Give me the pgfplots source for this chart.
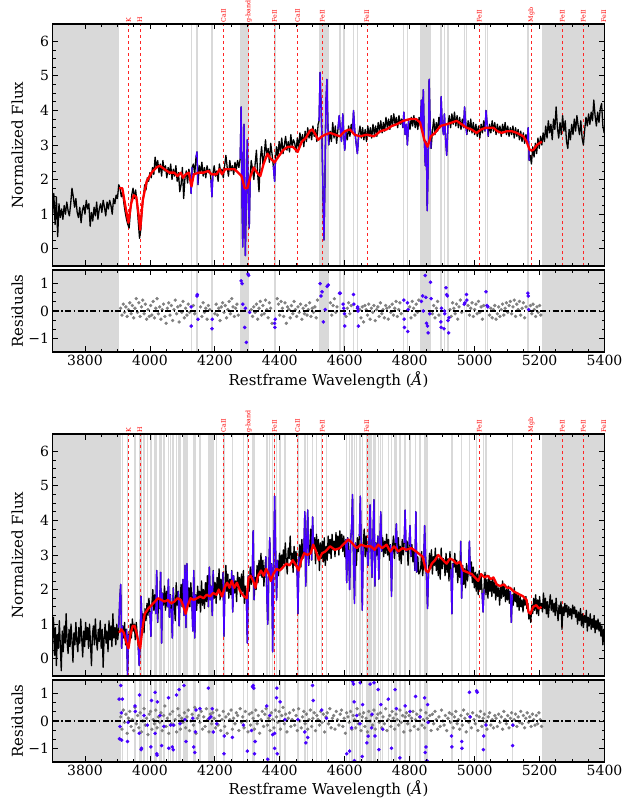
\documentclass[border=0pt]{standalone}
\usepackage{pgfplots}
\pgfplotsset{compat=1.18}
\usepackage{pgfplotstable}
\usepackage{fontspec}
\setmainfont{DejaVu Serif}
\definecolor{mblue}{RGB}{70,0,255}
\definecolor{band}{gray}{0.85}

\pgfplotstableread[row sep=\\]{x y\\
3700 1.00\\ 3704 1.60\\ 3708 0.70\\ 3712 1.50\\ 3716 0.35\\ 3720 1.30\\ 3724 0.90\\ 3728 1.15\\ 3732 0.85\\ 3736 1.25\\
3740 1.00\\ 3744 1.35\\ 3748 1.10\\ 3752 0.95\\ 3756 1.30\\ 3760 1.75\\ 3764 1.50\\ 3768 1.20\\ 3772 1.45\\ 3776 1.05\\
3780 0.90\\ 3784 1.20\\ 3788 0.75\\ 3792 1.10\\ 3796 1.25\\ 3800 1.00\\ 3804 1.40\\ 3808 1.15\\ 3812 1.30\\ 3816 0.65\\
3820 1.05\\ 3824 0.80\\ 3828 1.20\\ 3832 0.95\\ 3836 1.35\\ 3840 0.85\\ 3844 1.15\\ 3848 1.30\\ 3852 1.05\\ 3856 1.40\\
3860 1.20\\ 3864 0.95\\ 3868 1.35\\ 3872 1.15\\ 3876 1.40\\ 3880 1.25\\ 3884 1.00\\ 3888 1.45\\ 3892 1.30\\ 3896 1.55\\
3900 1.45\\ 3904 1.85\\ 3908 1.75\\ 3912 1.50\\ 3916 1.65\\ 3920 1.30\\ 3924 1.05\\ 3928 0.85\\ 3932 0.70\\ 3936 0.60\\
3940 1.10\\ 3944 1.55\\ 3948 1.75\\ 3952 1.45\\ 3956 1.70\\ 3960 1.35\\ 3964 0.80\\ 3968 0.30\\ 3972 0.55\\ 3976 1.15\\
3980 1.50\\ 3984 1.85\\ 3988 1.70\\ 3992 2.05\\ 3996 1.95\\ 4000 2.20\\ 4004 2.05\\ 4008 2.35\\ 4012 2.15\\ 4016 2.65\\
4020 2.35\\ 4024 2.55\\ 4028 2.20\\ 4032 2.45\\ 4036 2.10\\ 4040 2.55\\ 4044 2.25\\ 4048 2.40\\ 4052 2.05\\ 4056 2.35\\
4060 2.15\\ 4064 2.45\\ 4068 2.00\\ 4072 2.30\\ 4076 2.10\\ 4080 2.40\\ 4084 1.95\\ 4088 2.20\\ 4092 1.65\\ 4096 1.85\\
4100 2.35\\ 4104 1.45\\ 4108 2.05\\ 4112 2.25\\ 4116 1.90\\ 4120 2.30\\ 4124 2.10\\ 4127 1.60\\ 4130 2.35\\ 4134 2.45\\
4138 2.15\\ 4142 2.65\\ 4145 2.80\\ 4148 1.85\\ 4152 2.40\\ 4156 2.20\\ 4160 2.50\\ 4164 2.10\\ 4168 2.35\\ 4172 2.05\\
4176 2.40\\ 4180 2.20\\ 4184 2.30\\ 4188 2.00\\ 4191 1.50\\ 4194 2.15\\ 4198 2.40\\ 4202 2.10\\ 4206 2.25\\ 4210 1.95\\
4214 2.45\\ 4218 2.20\\ 4222 2.30\\ 4226 2.05\\ 4230 2.40\\ 4234 2.70\\ 4238 2.35\\ 4242 2.10\\ 4246 2.55\\ 4250 2.25\\
4254 2.40\\ 4258 2.15\\ 4262 2.50\\ 4266 2.30\\ 4270 2.55\\ 4274 2.35\\ 4278 2.60\\ 4281 4.10\\ 4284 1.20\\ 4286 0.05\\
4288 2.40\\ 4290 3.60\\ 4292 1.20\\ 4294 -0.20\\ 4297 1.60\\ 4300 3.15\\ 4303 1.40\\ 4306 0.60\\ 4309 2.10\\ 4312 2.55\\
4316 2.30\\ 4320 2.00\\ 4324 2.45\\ 4328 2.85\\ 4332 2.15\\ 4336 1.65\\ 4340 2.60\\ 4344 2.95\\ 4348 2.45\\ 4352 2.70\\
4356 3.15\\ 4360 2.65\\ 4364 2.90\\ 4368 2.50\\ 4372 3.05\\ 4376 2.75\\ 4380 2.40\\ 4384 1.95\\ 4387 2.60\\ 4390 2.95\\
4394 2.65\\ 4398 3.10\\ 4402 2.80\\ 4406 3.20\\ 4410 2.75\\ 4414 3.00\\ 4418 3.25\\ 4422 2.85\\ 4426 3.10\\ 4430 2.80\\
4434 3.30\\ 4438 2.95\\ 4442 3.15\\ 4446 3.05\\ 4450 2.80\\ 4454 3.20\\ 4458 2.90\\ 4462 3.35\\ 4466 3.05\\ 4470 3.30\\
4474 2.95\\ 4478 3.40\\ 4482 3.10\\ 4486 3.50\\ 4490 3.20\\ 4494 3.45\\ 4498 3.15\\ 4502 3.55\\ 4506 3.25\\ 4510 3.45\\
4514 3.10\\ 4518 3.60\\ 4521 3.70\\ 4524 5.10\\ 4527 4.20\\ 4530 3.10\\ 4533 1.60\\ 4536 0.25\\ 4539 1.90\\ 4542 4.20\\
4545 4.90\\ 4548 3.60\\ 4551 3.00\\ 4555 3.40\\ 4559 3.10\\ 4563 3.65\\ 4567 3.20\\ 4571 3.55\\ 4575 3.05\\ 4579 3.45\\
4583 3.85\\ 4586 3.50\\ 4590 3.10\\ 4594 3.90\\ 4597 3.30\\ 4600 2.85\\ 4604 3.40\\ 4608 3.15\\ 4612 3.55\\ 4616 3.25\\
4620 3.60\\ 4624 3.35\\ 4627 4.00\\ 4631 3.40\\ 4635 3.05\\ 4639 2.75\\ 4643 3.30\\ 4647 3.55\\ 4651 3.20\\ 4655 3.50\\
4659 3.15\\ 4663 3.45\\ 4667 3.10\\ 4671 3.55\\ 4675 3.25\\ 4679 3.50\\ 4683 3.20\\ 4687 3.60\\ 4691 3.30\\ 4695 3.55\\
4699 3.25\\ 4703 3.65\\ 4707 3.40\\ 4711 3.70\\ 4715 3.35\\ 4719 3.65\\ 4723 3.40\\ 4727 3.80\\ 4731 3.50\\ 4735 3.75\\
4739 3.45\\ 4743 3.85\\ 4747 3.55\\ 4751 3.90\\ 4755 3.60\\ 4759 3.80\\ 4763 3.50\\ 4767 3.85\\ 4771 3.60\\ 4775 3.75\\
4779 3.50\\ 4782 3.95\\ 4786 3.30\\ 4790 3.60\\ 4793 3.00\\ 4797 3.70\\ 4801 3.45\\ 4805 3.80\\ 4809 3.55\\ 4813 3.85\\
4817 3.50\\ 4821 3.75\\ 4825 3.45\\ 4829 3.80\\ 4833 3.55\\ 4836 4.30\\ 4839 3.40\\ 4842 4.60\\ 4845 3.20\\ 4848 2.40\\
4851 3.10\\ 4854 1.10\\ 4857 2.50\\ 4860 4.90\\ 4863 3.60\\ 4866 2.90\\ 4870 3.40\\ 4874 3.75\\ 4878 3.30\\ 4882 3.65\\
4886 3.40\\ 4890 3.80\\ 4894 3.50\\ 4897 4.40\\ 4900 3.60\\ 4904 3.30\\ 4907 3.90\\ 4911 3.10\\ 4914 2.70\\ 4918 3.60\\
4922 3.85\\ 4926 3.50\\ 4930 3.90\\ 4934 3.60\\ 4938 3.95\\ 4942 3.55\\ 4946 3.85\\ 4950 3.50\\ 4954 3.80\\ 4958 3.45\\
4962 3.75\\ 4966 3.50\\ 4969 4.10\\ 4973 3.55\\ 4976 3.30\\ 4980 3.70\\ 4984 3.40\\ 4988 3.75\\ 4992 3.35\\ 4996 3.65\\
5000 3.30\\ 5004 3.60\\ 5008 3.25\\ 5012 3.55\\ 5016 3.20\\ 5020 3.60\\ 5024 3.35\\ 5028 3.70\\ 5032 3.40\\ 5035 4.00\\
5039 3.55\\ 5042 3.25\\ 5046 3.60\\ 5050 3.35\\ 5054 3.70\\ 5058 3.40\\ 5062 3.65\\ 5066 3.30\\ 5070 3.60\\ 5074 3.35\\
5078 3.55\\ 5082 3.25\\ 5086 3.60\\ 5090 3.35\\ 5094 3.65\\ 5098 3.30\\ 5102 3.55\\ 5106 3.25\\ 5110 3.50\\ 5114 3.30\\
5118 3.55\\ 5122 3.20\\ 5126 3.50\\ 5130 3.25\\ 5134 3.45\\ 5138 3.15\\ 5142 3.40\\ 5146 3.10\\ 5150 3.35\\ 5154 3.05\\
5158 3.30\\ 5162 3.10\\ 5165 3.50\\ 5168 2.55\\ 5171 2.70\\ 5175 2.45\\ 5179 2.95\\ 5183 2.65\\ 5187 3.05\\ 5191 2.75\\
5195 3.20\\ 5199 2.90\\ 5203 3.25\\ 5207 3.00\\ 5211 3.35\\ 5215 3.10\\ 5219 3.55\\ 5223 3.20\\ 5227 3.70\\ 5231 3.35\\
5235 3.60\\ 5239 3.15\\ 5243 3.75\\ 5247 3.45\\ 5251 4.10\\ 5255 3.50\\ 5259 3.20\\ 5263 3.65\\ 5267 3.30\\ 5271 3.85\\
5275 3.40\\ 5279 3.70\\ 5283 3.10\\ 5287 2.90\\ 5291 3.45\\ 5295 3.15\\ 5299 3.60\\ 5303 3.30\\ 5307 3.75\\ 5311 3.40\\
5315 3.85\\ 5319 3.55\\ 5323 3.30\\ 5327 3.70\\ 5331 3.20\\ 5335 3.00\\ 5339 3.45\\ 5343 3.80\\ 5347 3.55\\ 5351 3.90\\
5355 3.60\\ 5359 3.95\\ 5363 3.70\\ 5367 4.30\\ 5371 3.85\\ 5375 3.55\\ 5379 3.95\\ 5383 3.65\\ 5387 4.05\\ 5391 4.20\\
5395 3.55\\ 5399 3.35\\ 5400 3.40\\
}\specA

\pgfplotstableread[row sep=\\]{x y\\
4124 2.10\\ 4127 1.60\\ 4130 2.35\\ 4131 nan\\
4142 2.65\\ 4145 2.80\\ 4148 1.85\\ 4149 nan\\
4188 2.00\\ 4191 1.50\\ 4194 2.15\\ 4195 nan\\
4278 2.60\\ 4281 4.10\\ 4284 1.20\\ 4286 0.05\\ 4288 2.40\\ 4290 3.60\\ 4292 1.20\\ 4294 -0.20\\ 4297 1.60\\ 4300 3.15\\ 4303 1.40\\ 4306 0.60\\ 4309 2.10\\ 4310 nan\\
4380 2.40\\ 4384 1.95\\ 4387 2.60\\ 4388 nan\\
4521 3.70\\ 4524 5.10\\ 4527 4.20\\ 4530 3.10\\ 4533 1.60\\ 4536 0.25\\ 4539 1.90\\ 4542 4.20\\ 4545 4.90\\ 4548 3.60\\ 4551 3.00\\ 4552 nan\\
4579 3.45\\ 4583 3.85\\ 4586 3.50\\ 4590 3.10\\ 4594 3.90\\ 4597 3.30\\ 4600 2.85\\ 4604 3.40\\ 4605 nan\\
4624 3.35\\ 4627 4.00\\ 4631 3.40\\ 4635 3.05\\ 4639 2.75\\ 4643 3.30\\ 4644 nan\\
4779 3.50\\ 4782 3.95\\ 4786 3.30\\ 4790 3.60\\ 4793 3.00\\ 4797 3.70\\ 4798 nan\\
4833 3.55\\ 4836 4.30\\ 4839 3.40\\ 4842 4.60\\ 4845 3.20\\ 4848 2.40\\ 4851 3.10\\ 4854 1.10\\ 4857 2.50\\ 4860 4.90\\ 4863 3.60\\ 4866 2.90\\ 4867 nan\\
4894 3.50\\ 4897 4.40\\ 4900 3.60\\ 4904 3.30\\ 4907 3.90\\ 4911 3.10\\ 4914 2.70\\ 4918 3.60\\ 4919 nan\\
4966 3.50\\ 4969 4.10\\ 4973 3.55\\ 4976 3.30\\ 4977 nan\\
5032 3.40\\ 5035 4.00\\ 5039 3.55\\ 5042 3.25\\ 5043 nan\\
5162 3.10\\ 5165 3.50\\ 5168 2.55\\
}\blueA

\pgfplotstableread[row sep=\\]{x y\\
3905 1.75\\ 3915 1.75\\ 3925 1.20\\ 3934 0.75\\ 3942 1.30\\ 3950 1.55\\ 3958 1.50\\ 3965 1.00\\ 3970 0.55\\ 3978 1.40\\
3990 1.95\\ 4005 2.20\\ 4020 2.35\\ 4030 2.40\\ 4045 2.30\\ 4060 2.20\\ 4075 2.20\\ 4085 2.10\\ 4095 2.20\\ 4102 2.05\\
4110 2.15\\ 4120 2.20\\ 4128 1.80\\ 4135 2.15\\ 4150 2.20\\ 4165 2.20\\ 4180 2.25\\ 4190 2.15\\ 4205 2.15\\ 4215 2.30\\
4222 2.15\\ 4232 2.30\\ 4245 2.30\\ 4260 2.30\\ 4272 2.20\\ 4282 2.10\\ 4292 1.75\\ 4300 1.75\\ 4310 2.10\\ 4320 2.35\\
4330 2.20\\ 4340 2.10\\ 4350 2.45\\ 4362 2.75\\ 4372 2.60\\ 4384 2.50\\ 4395 2.65\\ 4410 2.85\\ 4425 2.95\\ 4440 2.95\\
4455 2.80\\ 4468 3.10\\ 4480 3.20\\ 4492 3.40\\ 4500 3.45\\ 4510 3.30\\ 4518 3.15\\ 4530 3.25\\ 4540 3.30\\ 4555 3.35\\
4570 3.30\\ 4585 3.25\\ 4600 3.40\\ 4616 3.45\\ 4630 3.30\\ 4647 3.25\\ 4668 3.30\\ 4690 3.25\\ 4710 3.40\\ 4729 3.45\\
4745 3.55\\ 4760 3.60\\ 4780 3.70\\ 4801 3.75\\ 4820 3.75\\ 4832 3.65\\ 4845 3.15\\ 4855 2.95\\ 4865 3.25\\ 4878 3.35\\
4895 3.55\\ 4914 3.60\\ 4930 3.65\\ 4945 3.70\\ 4960 3.60\\ 4975 3.50\\ 4990 3.45\\ 5006 3.35\\ 5020 3.45\\ 5035 3.50\\
5058 3.50\\ 5070 3.40\\ 5083 3.35\\ 5100 3.40\\ 5114 3.40\\ 5130 3.35\\ 5150 3.25\\ 5160 3.10\\ 5170 2.85\\ 5180 2.85\\
5192 3.00\\ 5207 3.10\\
}\modelA

\pgfplotstableread[row sep=\\]{x y\\
3910 0.10\\ 3914 -0.15\\ 3918 0.25\\ 3922 -0.05\\ 3926 0.15\\ 3930 -0.20\\ 3934 0.05\\ 3938 0.30\\ 3942 -0.10\\ 3946 0.20\\
3950 -0.25\\ 3954 0.10\\ 3958 0.45\\ 3962 -0.05\\ 3966 0.30\\ 3970 -0.20\\ 3974 0.15\\ 3978 0.40\\ 3982 -0.10\\ 3986 0.25\\
3990 -0.30\\ 3994 0.05\\ 3998 -0.20\\ 4002 0.20\\ 4006 -0.15\\ 4010 0.35\\ 4014 -0.25\\ 4018 0.10\\ 4022 0.45\\ 4026 -0.10\\
4030 0.15\\ 4034 -0.30\\ 4038 0.05\\ 4042 0.25\\ 4046 -0.20\\ 4050 -0.45\\ 4054 0.10\\ 4058 0.30\\ 4062 -0.15\\ 4066 0.20\\
4070 -0.35\\ 4074 0.05\\ 4078 0.40\\ 4082 -0.10\\ 4086 0.15\\ 4090 -0.40\\ 4094 0.20\\ 4098 -0.05\\ 4102 0.35\\ 4106 -0.25\\
4110 0.10\\ 4114 -0.15\\ 4118 0.25\\ 4122 -0.05\\ 4134 0.20\\ 4138 -0.10\\ 4156 0.15\\ 4160 -0.20\\ 4164 0.30\\ 4168 -0.05\\
4172 0.10\\ 4176 -0.30\\ 4180 0.20\\ 4184 0.05\\ 4200 -0.10\\ 4204 0.25\\ 4208 -0.15\\ 4212 0.10\\ 4216 -0.35\\ 4220 0.15\\
4224 0.30\\ 4228 -0.05\\ 4232 0.20\\ 4236 -0.25\\ 4240 0.05\\ 4244 0.35\\ 4248 -0.10\\ 4252 0.45\\ 4256 0.15\\ 4260 -0.20\\
4264 0.10\\ 4268 0.25\\ 4272 -0.15\\ 4312 0.05\\ 4316 -0.20\\ 4320 0.15\\ 4324 -0.05\\ 4328 0.25\\ 4332 -0.30\\ 4336 0.10\\
4340 0.35\\ 4344 -0.15\\ 4348 0.20\\ 4352 -0.10\\ 4356 0.40\\ 4360 0.05\\ 4364 -0.25\\ 4368 0.30\\ 4372 0.10\\ 4376 -0.45\\
4392 0.45\\ 4396 0.25\\ 4400 -0.15\\ 4404 0.35\\ 4408 0.10\\ 4412 -0.20\\ 4416 0.30\\ 4420 -0.45\\ 4424 0.15\\ 4428 0.05\\
4432 -0.25\\ 4436 0.20\\ 4440 -0.10\\ 4444 0.35\\ 4448 0.05\\ 4452 -0.20\\ 4456 0.15\\ 4460 -0.05\\ 4464 0.25\\ 4468 -0.30\\
4472 0.10\\ 4476 -0.10\\ 4480 0.20\\ 4484 -0.15\\ 4488 0.05\\ 4492 0.30\\ 4496 -0.20\\ 4500 0.10\\ 4504 -0.05\\ 4508 0.15\\
4512 -0.25\\ 4516 0.40\\ 4556 0.30\\ 4560 -0.15\\ 4564 0.20\\ 4568 0.45\\ 4572 -0.05\\ 4576 0.15\\ 4604 -0.20\\ 4608 0.10\\
4612 0.30\\ 4616 -0.10\\ 4620 0.20\\ 4646 0.05\\ 4650 -0.25\\ 4654 0.15\\ 4658 -0.40\\ 4662 0.20\\ 4666 0.05\\ 4670 -0.15\\
4674 0.25\\ 4678 -0.30\\ 4682 0.10\\ 4686 -0.05\\ 4690 0.20\\ 4694 -0.35\\ 4698 0.05\\ 4702 0.15\\ 4706 -0.20\\ 4710 0.30\\
4714 -0.10\\ 4718 0.05\\ 4722 -0.25\\ 4726 0.20\\ 4730 0.10\\ 4734 -0.30\\ 4738 0.15\\ 4742 -0.05\\ 4746 0.25\\ 4750 -0.15\\
4754 0.10\\ 4758 0.35\\ 4762 -0.20\\ 4766 0.05\\ 4770 0.30\\ 4774 -0.10\\ 4800 0.15\\ 4804 -0.25\\ 4808 0.35\\ 4812 0.10\\
4816 -0.15\\ 4820 0.25\\ 4824 -0.05\\ 4828 0.40\\ 4870 -0.10\\ 4874 0.20\\ 4878 -0.25\\ 4882 0.10\\ 4886 0.35\\ 4890 -0.15\\
4924 0.05\\ 4928 -0.20\\ 4932 0.30\\ 4936 0.10\\ 4940 -0.10\\ 4944 0.25\\ 4948 -0.30\\ 4952 0.15\\ 4956 0.40\\ 4960 -0.05\\
4980 0.20\\ 4984 -0.15\\ 4988 0.10\\ 4992 0.30\\ 4996 -0.20\\ 5000 0.05\\ 5004 0.25\\ 5008 -0.10\\ 5012 0.35\\ 5016 -0.05\\
5020 0.15\\ 5024 -0.30\\ 5028 0.20\\ 5046 -0.15\\ 5050 0.10\\ 5054 -0.25\\ 5058 0.05\\ 5062 0.20\\ 5066 -0.30\\ 5070 -0.10\\
5074 0.15\\ 5078 -0.20\\ 5082 0.05\\ 5086 0.25\\ 5090 -0.15\\ 5094 0.10\\ 5098 0.30\\ 5102 -0.05\\ 5106 0.20\\ 5110 0.35\\
5114 -0.10\\ 5118 0.15\\ 5122 0.40\\ 5126 -0.20\\ 5130 0.25\\ 5134 0.05\\ 5138 0.35\\ 5142 -0.15\\ 5146 0.10\\ 5150 0.30\\
5154 -0.25\\ 5158 0.15\\ 5172 0.20\\ 5176 -0.10\\ 5180 0.25\\ 5184 0.05\\ 5188 -0.20\\ 5192 0.15\\ 5196 -0.05\\ 5200 0.20\\
5204 -0.15\\
}\resA

\pgfplotstableread[row sep=\\]{x y\\
4127 0.15\\ 4127 -0.55\\ 4145 0.55\\ 4146 0.60\\ 4148 -0.30\\ 4191 -0.65\\ 4192 -0.30\\ 4281 1.10\\ 4284 1.00\\ 4286 0.25\\
4292 -0.60\\ 4294 0.10\\ 4297 -1.15\\ 4302 1.35\\ 4304 1.30\\ 4307 -0.05\\ 4384 -0.45\\ 4385 -0.60\\ 4386 -0.30\\ 4524 1.00\\
4527 0.55\\ 4530 0.70\\ 4534 -0.40\\ 4540 0.05\\ 4546 0.90\\ 4549 0.95\\ 4584 0.65\\ 4586 0.65\\ 4595 0.25\\ 4597 0.10\\
4599 -0.10\\ 4600 -0.55\\ 4627 0.60\\ 4628 0.25\\ 4639 0.10\\ 4640 0.15\\ 4642 -0.55\\ 4641 0.00\\ 4782 0.40\\ 4783 -0.30\\
4784 -0.60\\ 4793 0.30\\ 4794 -0.75\\ 4795 0.05\\ 4836 0.35\\ 4840 0.55\\ 4842 0.00\\ 4848 1.30\\ 4850 0.50\\ 4852 -0.45\\
4855 -0.55\\ 4857 -0.80\\ 4862 -0.10\\ 4864 1.05\\ 4866 0.45\\ 4896 -0.40\\ 4897 -0.60\\ 4898 0.10\\ 4906 -0.65\\ 4907 0.00\\
4908 -0.10\\ 4912 0.85\\ 4914 0.60\\ 4916 0.55\\ 4918 -0.35\\ 4920 -0.80\\ 4921 -0.25\\ 4968 0.25\\ 4970 0.30\\ 4975 0.60\\
4976 0.40\\ 5035 0.70\\ 5038 0.20\\ 5041 0.15\\ 5164 0.65\\ 5165 0.55\\ 5166 0.05\\
}\resblueA

\pgfplotstableread[row sep=\\]{x y\\
3700 0.60\\ 3703 1.20\\ 3706 0.10\\ 3709 0.90\\ 3712 -0.20\\ 3715 0.70\\ 3718 0.30\\ 3721 1.10\\ 3724 0.40\\ 3727 -0.35\\
3730 0.80\\ 3733 0.20\\ 3736 0.95\\ 3739 0.45\\ 3742 1.30\\ 3745 0.50\\ 3748 0.15\\ 3751 0.85\\ 3754 0.35\\ 3757 1.00\\
3760 0.55\\ 3763 -0.10\\ 3766 0.75\\ 3769 0.40\\ 3772 1.05\\ 3775 0.50\\ 3778 0.20\\ 3781 0.90\\ 3784 0.45\\ 3787 1.15\\
3790 0.60\\ 3793 0.05\\ 3796 0.80\\ 3799 0.35\\ 3802 1.05\\ 3805 0.55\\ 3808 0.90\\ 3811 0.30\\ 3814 1.00\\ 3817 0.45\\
3820 -0.20\\ 3823 0.70\\ 3826 0.95\\ 3829 0.40\\ 3832 1.15\\ 3835 0.55\\ 3838 0.25\\ 3841 0.85\\ 3844 0.50\\ 3847 1.10\\
3850 0.30\\ 3853 0.85\\ 3856 -0.25\\ 3859 0.60\\ 3862 1.00\\ 3865 0.45\\ 3868 0.80\\ 3871 0.20\\ 3874 1.10\\ 3877 0.55\\
3880 0.95\\ 3883 0.35\\ 3886 1.30\\ 3889 0.60\\ 3892 0.90\\ 3895 0.40\\ 3898 1.00\\ 3901 0.55\\ 3904 0.90\\ 3907 1.70\\
3910 2.15\\ 3913 0.30\\ 3916 0.95\\ 3919 0.60\\ 3922 1.05\\ 3925 0.40\\ 3928 0.85\\ 3931 -0.50\\ 3934 0.70\\ 3937 0.45\\
3940 1.00\\ 3943 0.60\\ 3946 1.15\\ 3949 0.80\\ 3952 1.00\\ 3955 0.55\\ 3958 1.05\\ 3961 0.70\\ 3964 0.35\\ 3967 -0.20\\
3970 0.50\\ 3973 1.80\\ 3976 0.90\\ 3979 1.30\\ 3982 0.75\\ 3985 1.45\\ 3988 1.10\\ 3991 1.60\\ 3994 1.25\\ 3997 1.75\\
4000 1.35\\ 4003 0.65\\ 4006 1.55\\ 4009 2.00\\ 4012 1.40\\ 4015 1.85\\ 4018 1.30\\ 4021 2.55\\ 4024 1.05\\ 4027 1.70\\
4030 1.45\\ 4033 2.50\\ 4036 0.45\\ 4039 1.90\\ 4042 1.55\\ 4045 2.10\\ 4048 1.40\\ 4051 1.95\\ 4054 1.50\\ 4057 2.30\\
4060 1.20\\ 4063 1.85\\ 4066 1.45\\ 4069 0.60\\ 4072 2.05\\ 4075 1.60\\ 4078 1.10\\ 4081 2.20\\ 4084 1.55\\ 4087 1.95\\
4090 0.95\\ 4093 1.75\\ 4096 2.15\\ 4099 1.50\\ 4102 2.30\\ 4105 1.25\\ 4108 2.70\\ 4111 0.90\\ 4114 2.75\\ 4117 1.60\\
4120 2.05\\ 4123 1.50\\ 4126 2.20\\ 4129 1.70\\ 4132 0.80\\ 4135 2.55\\ 4138 0.60\\ 4141 1.85\\ 4144 1.40\\ 4147 2.10\\
4150 1.60\\ 4153 1.95\\ 4156 1.35\\ 4159 2.25\\ 4162 1.55\\ 4165 2.00\\ 4168 1.45\\ 4171 2.20\\ 4174 1.65\\ 4177 2.40\\
4180 1.50\\ 4183 2.65\\ 4186 1.70\\ 4189 2.10\\ 4192 1.25\\ 4195 2.55\\ 4198 1.75\\ 4201 2.20\\ 4204 1.60\\ 4207 2.35\\
4210 1.90\\ 4213 2.60\\ 4216 1.70\\ 4219 2.30\\ 4222 1.85\\ 4225 2.50\\ 4228 0.65\\ 4231 2.05\\ 4234 2.70\\ 4237 1.95\\
4240 2.45\\ 4243 1.75\\ 4246 2.30\\ 4249 1.85\\ 4252 2.55\\ 4255 1.35\\ 4258 2.40\\ 4261 1.90\\ 4264 2.25\\ 4267 1.65\\
4270 2.50\\ 4273 2.05\\ 4276 2.35\\ 4279 1.80\\ 4282 2.45\\ 4285 1.95\\ 4288 2.55\\ 4291 1.60\\ 4294 2.10\\ 4297 1.80\\
4300 0.45\\ 4303 2.40\\ 4306 1.95\\ 4309 2.65\\ 4312 2.15\\ 4315 2.40\\ 4318 3.70\\ 4321 1.70\\ 4324 2.35\\ 4327 2.00\\
4330 2.70\\ 4333 2.20\\ 4336 2.85\\ 4339 2.40\\ 4342 3.05\\ 4345 2.35\\ 4348 2.85\\ 4351 2.10\\ 4354 2.60\\ 4357 2.95\\
4360 1.90\\ 4363 1.00\\ 4366 2.55\\ 4369 3.50\\ 4372 2.30\\ 4375 2.75\\ 4378 0.20\\ 4381 2.60\\ 4384 4.70\\ 4387 3.15\\
4390 1.70\\ 4393 2.85\\ 4396 2.40\\ 4399 3.05\\ 4402 2.55\\ 4405 3.00\\ 4408 2.60\\ 4411 3.15\\ 4414 2.75\\ 4417 3.35\\
4420 2.80\\ 4423 2.45\\ 4426 3.20\\ 4429 2.90\\ 4432 3.55\\ 4435 2.85\\ 4438 3.05\\ 4441 2.50\\ 4444 3.25\\ 4447 2.70\\
4450 3.10\\ 4453 2.60\\ 4456 1.30\\ 4459 2.95\\ 4462 3.30\\ 4465 2.65\\ 4468 3.45\\ 4471 2.90\\ 4474 3.10\\ 4477 4.25\\
4480 2.10\\ 4483 3.40\\ 4486 4.30\\ 4489 2.70\\ 4492 3.15\\ 4495 3.75\\ 4498 2.85\\ 4501 4.10\\ 4504 3.20\\ 4507 3.50\\
4510 2.75\\ 4513 3.60\\ 4516 3.10\\ 4519 3.45\\ 4522 2.55\\ 4525 3.35\\ 4528 2.90\\ 4531 3.40\\ 4534 2.80\\ 4537 3.50\\
4540 2.70\\ 4543 3.25\\ 4546 2.85\\ 4549 3.55\\ 4552 3.05\\ 4555 3.45\\ 4558 2.90\\ 4561 3.60\\ 4564 3.15\\ 4567 3.40\\
4570 2.95\\ 4573 3.65\\ 4576 3.20\\ 4579 3.55\\ 4582 3.00\\ 4585 3.70\\ 4588 3.25\\ 4591 3.60\\ 4594 3.10\\ 4597 3.55\\
4600 2.95\\ 4603 3.45\\ 4606 2.20\\ 4609 3.50\\ 4612 3.15\\ 4615 2.00\\ 4618 3.40\\ 4621 3.80\\ 4624 4.75\\ 4627 2.90\\
4630 1.60\\ 4633 3.35\\ 4636 2.70\\ 4639 3.50\\ 4642 3.10\\ 4645 3.55\\ 4648 4.70\\ 4651 3.20\\ 4654 1.40\\ 4657 3.30\\
4660 3.75\\ 4663 2.95\\ 4666 3.55\\ 4669 3.10\\ 4672 2.70\\ 4675 3.45\\ 4678 4.45\\ 4681 3.20\\ 4684 2.35\\ 4687 3.60\\
4690 4.60\\ 4693 2.10\\ 4696 3.35\\ 4699 3.00\\ 4702 3.55\\ 4705 2.30\\ 4708 3.40\\ 4711 4.25\\ 4714 3.10\\ 4717 3.50\\
4720 2.95\\ 4723 3.40\\ 4726 3.05\\ 4729 3.60\\ 4732 3.00\\ 4735 3.45\\ 4738 2.85\\ 4741 3.30\\ 4744 1.80\\ 4747 3.20\\
4750 3.55\\ 4753 2.90\\ 4756 3.35\\ 4759 3.90\\ 4762 3.05\\ 4765 3.50\\ 4768 2.85\\ 4771 3.25\\ 4774 2.75\\ 4777 3.45\\
4780 3.00\\ 4783 3.35\\ 4786 4.30\\ 4789 3.10\\ 4792 3.40\\ 4795 2.70\\ 4798 3.30\\ 4801 3.85\\ 4804 2.95\\ 4807 3.30\\
4810 2.80\\ 4813 3.15\\ 4816 2.55\\ 4819 4.25\\ 4822 2.50\\ 4825 2.95\\ 4828 2.45\\ 4831 2.50\\ 4834 2.60\\ 4837 3.10\\
4840 2.40\\ 4843 2.75\\ 4846 3.85\\ 4849 2.95\\ 4852 2.35\\ 4855 1.45\\ 4858 2.50\\ 4861 3.05\\ 4864 2.60\\ 4867 3.15\\
4870 2.45\\ 4873 2.95\\ 4876 2.70\\ 4879 3.20\\ 4882 2.55\\ 4885 3.00\\ 4888 2.40\\ 4891 2.90\\ 4894 2.30\\ 4897 3.20\\
4900 2.60\\ 4903 2.90\\ 4906 2.85\\ 4909 2.40\\ 4912 3.05\\ 4915 2.50\\ 4918 2.90\\ 4921 2.25\\ 4924 3.10\\ 4927 2.60\\
4930 1.30\\ 4933 2.75\\ 4936 2.65\\ 4939 3.05\\ 4942 2.50\\ 4945 2.85\\ 4948 2.20\\ 4951 2.75\\ 4954 2.35\\ 4957 3.40\\
4960 1.75\\ 4963 2.70\\ 4966 2.15\\ 4969 2.60\\ 4972 2.05\\ 4975 2.75\\ 4978 2.25\\ 4981 2.55\\ 4984 3.40\\ 4987 2.40\\
4990 2.80\\ 4993 2.20\\ 4996 2.65\\ 4999 2.05\\ 5002 2.50\\ 5005 1.95\\ 5008 2.45\\ 5011 1.85\\ 5014 2.55\\ 5017 2.00\\
5020 2.40\\ 5023 1.90\\ 5026 1.35\\ 5029 2.00\\ 5032 2.50\\ 5035 1.85\\ 5038 2.30\\ 5041 1.75\\ 5044 2.40\\ 5047 1.95\\
5050 2.25\\ 5053 1.80\\ 5056 2.35\\ 5059 1.90\\ 5062 2.20\\ 5065 1.70\\ 5068 2.15\\ 5071 1.80\\ 5074 2.05\\ 5077 1.55\\
5080 2.10\\ 5083 1.75\\ 5086 2.25\\ 5089 1.80\\ 5092 2.15\\ 5095 1.65\\ 5098 2.00\\ 5101 1.70\\ 5104 2.10\\ 5107 1.60\\
5110 1.95\\ 5113 1.05\\ 5116 1.85\\ 5119 1.55\\ 5122 2.05\\ 5125 1.65\\ 5128 1.90\\ 5131 1.50\\ 5134 1.85\\ 5137 1.40\\
5140 1.80\\ 5143 1.50\\ 5146 1.70\\ 5149 1.35\\ 5152 1.75\\ 5155 1.55\\ 5158 1.80\\ 5161 1.45\\ 5164 1.60\\ 5167 1.15\\
5170 1.30\\ 5173 1.05\\ 5176 1.55\\ 5179 1.30\\ 5182 1.75\\ 5185 1.40\\ 5188 1.85\\ 5191 1.30\\ 5194 1.70\\ 5197 1.25\\
5200 1.80\\ 5203 1.45\\ 5206 1.60\\ 5209 1.35\\ 5212 1.90\\ 5215 1.45\\ 5218 1.75\\ 5221 1.30\\ 5224 1.65\\ 5227 1.20\\
5230 1.55\\ 5233 1.85\\ 5236 1.40\\ 5239 1.70\\ 5242 1.35\\ 5245 1.60\\ 5248 1.25\\ 5251 1.75\\ 5254 1.40\\ 5257 1.10\\
5260 1.55\\ 5263 1.30\\ 5266 1.65\\ 5269 0.85\\ 5272 1.50\\ 5275 1.25\\ 5278 1.60\\ 5281 1.35\\ 5284 1.55\\ 5287 1.20\\
5290 1.50\\ 5293 1.25\\ 5296 1.45\\ 5299 1.15\\ 5302 1.55\\ 5305 1.30\\ 5308 1.50\\ 5311 1.20\\ 5314 1.40\\ 5317 1.00\\
5320 1.35\\ 5323 1.10\\ 5326 1.45\\ 5329 0.95\\ 5332 1.30\\ 5335 0.90\\ 5338 1.25\\ 5341 1.05\\ 5344 1.40\\ 5347 0.80\\
5350 1.20\\ 5353 0.95\\ 5356 1.30\\ 5359 0.85\\ 5362 1.15\\ 5365 0.90\\ 5368 1.25\\ 5371 0.75\\ 5374 1.10\\ 5377 0.85\\
5380 1.15\\ 5383 0.80\\ 5386 1.05\\ 5389 0.65\\ 5392 0.95\\ 5395 0.40\\ 5398 0.85\\ 5400 0.75\\
}\specB

\pgfplotstableread[row sep=\\]{x y\\
3904 0.90\\ 3907 1.70\\ 3910 2.15\\ 3913 0.30\\ 3916 0.95\\ 3917 nan\\
3928 0.85\\ 3931 -0.50\\ 3934 0.70\\ 3935 nan\\
3964 0.35\\ 3967 -0.20\\ 3970 0.50\\ 3973 1.80\\ 3976 0.90\\ 3977 nan\\
4000 1.35\\ 4003 0.65\\ 4006 1.55\\ 4007 nan\\
4018 1.30\\ 4021 2.55\\ 4024 1.05\\ 4025 nan\\
4030 1.45\\ 4033 2.50\\ 4036 0.45\\ 4039 1.90\\ 4040 nan\\
4054 1.50\\ 4057 2.30\\ 4060 1.20\\ 4063 1.85\\ 4064 nan\\
4066 1.45\\ 4069 0.60\\ 4072 2.05\\ 4073 nan\\
4087 1.95\\ 4090 0.95\\ 4093 1.75\\ 4094 nan\\
4102 2.30\\ 4105 1.25\\ 4108 2.70\\ 4111 0.90\\ 4114 2.75\\ 4117 1.60\\ 4118 nan\\
4129 1.70\\ 4132 0.80\\ 4135 2.55\\ 4138 0.60\\ 4141 1.85\\ 4142 nan\\
4180 1.50\\ 4183 2.65\\ 4186 1.70\\ 4187 nan\\
4189 2.10\\ 4192 1.25\\ 4195 2.55\\ 4196 nan\\
4225 2.50\\ 4228 0.65\\ 4231 2.05\\ 4232 nan\\
4252 2.55\\ 4255 1.35\\ 4258 2.40\\ 4259 nan\\
4297 1.80\\ 4300 0.45\\ 4303 2.40\\ 4304 nan\\
4315 2.40\\ 4318 3.70\\ 4321 1.70\\ 4322 nan\\
4357 2.95\\ 4360 1.90\\ 4363 1.00\\ 4366 2.55\\ 4369 3.50\\ 4372 2.30\\ 4373 nan\\
4375 2.75\\ 4378 0.20\\ 4381 2.60\\ 4384 4.70\\ 4387 3.15\\ 4390 1.70\\ 4393 2.85\\ 4394 nan\\
4453 2.60\\ 4456 1.30\\ 4459 2.95\\ 4460 nan\\
4474 3.10\\ 4477 4.25\\ 4480 2.10\\ 4483 3.40\\ 4486 4.30\\ 4489 2.70\\ 4490 nan\\
4498 2.85\\ 4501 4.10\\ 4504 3.20\\ 4505 nan\\
4603 3.45\\ 4606 2.20\\ 4609 3.50\\ 4610 nan\\
4612 3.15\\ 4615 2.00\\ 4618 3.40\\ 4621 3.80\\ 4624 4.75\\ 4627 2.90\\ 4630 1.60\\ 4633 3.35\\ 4634 nan\\
4645 3.55\\ 4648 4.70\\ 4651 3.20\\ 4654 1.40\\ 4657 3.30\\ 4658 nan\\
4669 3.10\\ 4672 2.70\\ 4675 3.45\\ 4678 4.45\\ 4681 3.20\\ 4684 2.35\\ 4687 3.60\\ 4690 4.60\\ 4693 2.10\\ 4696 3.35\\ 4697 nan\\
4702 3.55\\ 4705 2.30\\ 4708 3.40\\ 4711 4.25\\ 4714 3.10\\ 4715 nan\\
4741 3.30\\ 4744 1.80\\ 4747 3.20\\ 4748 nan\\
4756 3.35\\ 4759 3.90\\ 4762 3.05\\ 4763 nan\\
4783 3.35\\ 4786 4.30\\ 4789 3.10\\ 4790 nan\\
4798 3.30\\ 4801 3.85\\ 4804 2.95\\ 4805 nan\\
4816 2.55\\ 4819 4.25\\ 4822 2.50\\ 4823 nan\\
4843 2.75\\ 4846 3.85\\ 4849 2.95\\ 4852 2.35\\ 4855 1.45\\ 4858 2.50\\ 4859 nan\\
4927 2.60\\ 4930 1.30\\ 4933 2.75\\ 4934 nan\\
4957 3.40\\ 4960 1.75\\ 4963 2.70\\ 4964 nan\\
4981 2.55\\ 4984 3.40\\ 4987 2.40\\ 4988 nan\\
5023 1.90\\ 5026 1.35\\ 5029 2.00\\ 5030 nan\\
5110 1.95\\ 5113 1.05\\ 5116 1.85\\
}\blueB

\pgfplotstableread[row sep=\\]{x y\\
3905 0.75\\ 3912 0.85\\ 3920 0.75\\ 3928 0.45\\ 3934 0.30\\ 3940 0.70\\ 3947 0.95\\ 3953 0.95\\ 3960 0.70\\ 3966 0.40\\
3970 0.30\\ 3976 0.80\\ 3984 1.30\\ 3995 1.45\\ 4005 1.55\\ 4015 1.65\\ 4025 1.75\\ 4035 1.70\\ 4045 1.65\\ 4055 1.70\\
4065 1.60\\ 4075 1.65\\ 4085 1.75\\ 4095 1.70\\ 4102 1.55\\ 4110 1.30\\ 4117 1.55\\ 4125 1.75\\ 4135 1.70\\ 4145 1.75\\
4155 1.80\\ 4165 1.75\\ 4175 1.85\\ 4185 1.80\\ 4195 1.90\\ 4205 1.85\\ 4212 2.00\\ 4222 1.80\\ 4230 2.05\\ 4238 2.20\\
4245 2.05\\ 4252 2.25\\ 4260 2.05\\ 4268 2.20\\ 4278 1.95\\ 4290 1.80\\ 4298 1.75\\ 4304 2.35\\ 4310 2.40\\ 4318 2.25\\
4325 2.05\\ 4333 2.40\\ 4342 2.55\\ 4350 2.40\\ 4358 2.60\\ 4366 2.45\\ 4372 2.25\\ 4380 2.45\\ 4390 2.60\\ 4400 2.55\\
4410 2.65\\ 4420 2.75\\ 4430 2.70\\ 4440 2.85\\ 4450 2.70\\ 4458 2.55\\ 4466 2.85\\ 4475 3.05\\ 4485 3.00\\ 4495 3.05\\
4503 3.30\\ 4512 3.10\\ 4520 2.85\\ 4530 3.05\\ 4540 3.10\\ 4555 3.25\\ 4570 3.15\\ 4585 3.20\\ 4600 3.35\\ 4611 3.45\\
4622 3.35\\ 4637 3.20\\ 4650 3.30\\ 4665 3.25\\ 4680 3.25\\ 4692 3.15\\ 4703 3.30\\ 4715 3.20\\ 4729 3.30\\ 4740 3.10\\
4752 3.25\\ 4765 3.10\\ 4778 3.20\\ 4790 3.15\\ 4805 3.20\\ 4820 3.10\\ 4840 2.95\\ 4850 2.55\\ 4857 2.50\\ 4868 2.75\\
4878 2.85\\ 4888 3.00\\ 4898 2.90\\ 4908 2.80\\ 4914 2.75\\ 4924 2.90\\ 4934 2.85\\ 4944 2.75\\ 4955 2.80\\ 4965 2.55\\
4978 2.50\\ 4991 2.45\\ 5001 2.35\\ 5011 2.25\\ 5020 2.45\\ 5030 2.35\\ 5040 2.40\\ 5050 2.30\\ 5058 2.35\\ 5068 2.15\\
5078 2.10\\ 5090 2.15\\ 5100 2.05\\ 5109 2.05\\ 5120 1.95\\ 5130 1.90\\ 5140 1.85\\ 5150 1.80\\ 5160 1.70\\ 5166 1.35\\
5172 1.30\\ 5180 1.50\\ 5190 1.55\\ 5198 1.45\\ 5206 1.50\\
}\modelB

\pgfplotstableread[row sep=\\]{x y\\
3910 0.15\\ 3914 -0.30\\ 3918 0.40\\ 3922 -0.05\\ 3926 0.25\\ 3930 -0.45\\ 3934 0.10\\ 3938 0.35\\ 3942 -0.20\\ 3946 0.05\\
3950 -0.35\\ 3954 0.50\\ 3958 -0.10\\ 3962 0.20\\ 3966 -0.25\\ 3970 0.30\\ 3974 -0.40\\ 3978 0.00\\ 3982 0.45\\ 3986 -0.15\\
3990 0.10\\ 3994 -0.50\\ 3998 0.25\\ 4002 0.35\\ 4006 -0.30\\ 4010 0.05\\ 4014 -0.10\\ 4018 0.40\\ 4022 -0.25\\ 4026 0.15\\
4030 -0.05\\ 4034 0.30\\ 4038 -0.35\\ 4042 0.20\\ 4046 0.55\\ 4050 -0.20\\ 4054 0.10\\ 4058 -0.45\\ 4062 0.25\\ 4066 -0.10\\
4070 0.35\\ 4074 -0.15\\ 4078 0.05\\ 4082 -0.40\\ 4086 0.45\\ 4090 0.20\\ 4094 -0.30\\ 4098 0.10\\ 4102 -0.05\\ 4106 0.30\\
4110 -0.25\\ 4114 0.15\\ 4118 0.40\\ 4122 -0.35\\ 4126 0.00\\ 4130 0.25\\ 4134 -0.15\\ 4138 0.50\\ 4142 -0.45\\ 4146 0.10\\
4150 0.20\\ 4154 -0.05\\ 4158 0.35\\ 4162 -0.30\\ 4166 0.15\\ 4170 -0.20\\ 4174 0.45\\ 4178 0.05\\ 4182 -0.40\\ 4186 0.25\\
4190 -0.10\\ 4194 0.30\\ 4198 0.10\\ 4202 -0.25\\ 4206 0.40\\ 4210 -0.15\\ 4214 0.20\\ 4218 -0.35\\ 4222 0.05\\ 4226 0.35\\
4230 -0.20\\ 4234 0.15\\ 4238 -0.45\\ 4242 0.25\\ 4246 0.05\\ 4250 0.40\\ 4254 -0.30\\ 4258 0.10\\ 4262 -0.10\\ 4266 0.30\\
4270 0.20\\ 4274 -0.35\\ 4278 0.45\\ 4282 -0.05\\ 4286 0.15\\ 4290 -0.25\\ 4294 0.35\\ 4298 0.00\\ 4302 -0.40\\ 4306 0.25\\
4310 -0.15\\ 4314 0.30\\ 4318 0.10\\ 4322 -0.30\\ 4326 0.40\\ 4330 -0.10\\ 4334 0.20\\ 4338 -0.45\\ 4342 0.05\\ 4346 0.35\\
4350 -0.20\\ 4354 0.25\\ 4358 0.45\\ 4362 -0.15\\ 4366 0.10\\ 4370 -0.35\\ 4374 0.30\\ 4378 0.05\\ 4382 -0.25\\ 4386 0.40\\
4390 0.15\\ 4394 -0.05\\ 4398 0.35\\ 4402 -0.30\\ 4406 0.20\\ 4410 0.50\\ 4414 -0.10\\ 4418 0.25\\ 4422 -0.40\\ 4426 0.10\\
4430 0.30\\ 4434 -0.20\\ 4438 0.05\\ 4442 0.40\\ 4446 -0.15\\ 4450 0.20\\ 4454 -0.35\\ 4458 0.45\\ 4462 0.00\\ 4466 -0.25\\
4470 0.15\\ 4474 0.35\\ 4478 -0.10\\ 4482 0.25\\ 4486 -0.30\\ 4490 0.05\\ 4494 0.40\\ 4498 -0.20\\ 4502 0.10\\ 4506 0.30\\
4510 -0.35\\ 4514 0.20\\ 4518 0.05\\ 4522 -0.15\\ 4526 0.35\\ 4530 -0.05\\ 4534 0.25\\ 4538 -0.40\\ 4542 0.15\\ 4546 0.30\\
4550 -0.10\\ 4554 0.45\\ 4558 -0.25\\ 4562 0.10\\ 4566 0.20\\ 4570 -0.30\\ 4574 0.35\\ 4578 0.05\\ 4582 -0.15\\ 4586 0.25\\
4590 0.40\\ 4594 -0.20\\ 4598 0.10\\ 4602 -0.45\\ 4606 0.30\\ 4610 0.15\\ 4614 -0.05\\ 4618 0.35\\ 4622 -0.30\\ 4626 0.20\\
4630 0.05\\ 4634 -0.25\\ 4638 0.45\\ 4642 -0.10\\ 4646 0.25\\ 4650 -0.35\\ 4654 0.15\\ 4658 0.30\\ 4662 -0.20\\ 4666 0.10\\
4670 -0.40\\ 4674 0.35\\ 4678 0.00\\ 4682 0.20\\ 4686 -0.15\\ 4690 0.40\\ 4694 -0.30\\ 4698 0.10\\ 4702 0.25\\ 4706 -0.05\\
4710 0.30\\ 4714 -0.25\\ 4718 0.15\\ 4722 -0.10\\ 4726 0.45\\ 4730 -0.35\\ 4734 0.05\\ 4738 0.20\\ 4742 -0.20\\ 4746 0.35\\
4750 0.10\\ 4754 -0.30\\ 4758 0.25\\ 4762 0.05\\ 4766 -0.15\\ 4770 0.40\\ 4774 -0.05\\ 4778 0.20\\ 4782 -0.40\\ 4786 0.15\\
4790 0.30\\ 4794 -0.10\\ 4798 0.20\\ 4802 -0.35\\ 4806 0.10\\ 4810 0.35\\ 4814 -0.20\\ 4818 0.05\\ 4822 0.25\\ 4826 -0.30\\
4830 0.15\\ 4834 0.40\\ 4838 -0.15\\ 4842 0.05\\ 4846 -0.25\\ 4850 0.30\\ 4854 0.10\\ 4858 -0.05\\ 4862 0.20\\ 4866 -0.35\\
4870 0.25\\ 4874 -0.10\\ 4878 0.35\\ 4882 0.05\\ 4886 -0.30\\ 4890 0.15\\ 4894 -0.20\\ 4898 0.40\\ 4902 0.00\\ 4906 -0.15\\
4910 0.20\\ 4914 -0.35\\ 4918 0.10\\ 4922 0.30\\ 4926 -0.05\\ 4930 0.25\\ 4934 -0.25\\ 4938 0.15\\ 4942 0.35\\ 4946 -0.10\\
4950 0.05\\ 4954 -0.30\\ 4958 0.20\\ 4962 -0.15\\ 4966 0.40\\ 4970 0.10\\ 4974 -0.40\\ 4978 0.25\\ 4982 -0.05\\ 4986 0.15\\
4990 -0.25\\ 4994 0.30\\ 4998 0.05\\ 5002 -0.10\\ 5006 0.20\\ 5010 -0.35\\ 5014 0.15\\ 5018 0.35\\ 5022 -0.20\\ 5026 0.10\\
5030 0.25\\ 5034 -0.05\\ 5038 -0.30\\ 5042 0.15\\ 5046 0.30\\ 5050 -0.15\\ 5054 0.05\\ 5058 -0.25\\ 5062 0.20\\ 5066 0.10\\
5070 -0.20\\ 5074 0.25\\ 5078 -0.05\\ 5082 0.15\\ 5086 -0.30\\ 5090 0.35\\ 5094 0.05\\ 5098 -0.10\\ 5102 0.20\\ 5106 -0.25\\
5110 0.10\\ 5114 0.30\\ 5118 -0.15\\ 5122 0.05\\ 5126 0.25\\ 5130 -0.20\\ 5134 0.15\\ 5138 -0.05\\ 5142 0.35\\ 5146 -0.10\\
5150 0.20\\ 5154 -0.25\\ 5158 0.10\\ 5162 0.30\\ 5166 -0.05\\ 5170 0.15\\ 5174 -0.20\\ 5178 0.25\\ 5182 0.05\\ 5186 -0.15\\
5190 0.20\\ 5194 -0.10\\ 5198 0.30\\ 5202 0.05\\ 5206 -0.20\\
}\resB

\pgfplotstableread[row sep=\\]{x y\\
3905 0.80\\ 3906 -0.65\\ 3908 -0.20\\ 3910 1.30\\ 3912 0.30\\ 3913 -0.70\\ 3915 0.80\\ 3931 -0.75\\ 3933 -0.05\\ 3954 0.55\\
3955 0.35\\ 3967 -0.45\\ 3968 0.95\\ 3973 -1.05\\ 3974 -1.00\\ 3982 0.20\\ 3992 -0.15\\ 4003 -0.95\\ 4005 0.75\\ 4016 -0.45\\
4016 1.05\\ 4021 -1.20\\ 4022 -1.25\\ 4023 0.70\\ 4031 0.20\\ 4036 -0.90\\ 4043 -0.20\\ 4057 0.85\\ 4058 -1.00\\ 4064 -0.15\\
4069 -0.95\\ 4072 -1.05\\ 4072 -0.15\\ 4082 0.95\\ 4090 1.15\\ 4093 -0.10\\ 4105 1.30\\ 4108 0.05\\ 4111 -0.75\\ 4132 0.10\\
4135 -0.95\\ 4138 -1.15\\ 4140 -0.40\\ 4142 0.40\\ 4154 0.45\\ 4180 1.20\\ 4183 0.10\\ 4188 0.15\\ 4192 0.45\\ 4195 -0.40\\
4206 -0.10\\ 4228 -1.20\\ 4229 -0.55\\ 4254 -0.60\\ 4288 -0.15\\ 4300 -1.10\\ 4313 -0.35\\ 4316 1.25\\ 4318 1.30\\ 4320 1.20\\
4322 -1.20\\ 4324 -0.75\\ 4360 0.55\\ 4363 -1.40\\ 4369 0.20\\ 4378 -0.50\\ 4384 -1.00\\ 4384 -0.45\\ 4390 0.85\\ 4391 1.20\\
4392 -1.20\\ 4401 0.70\\ 4416 0.05\\ 4456 0.05\\ 4477 -0.40\\ 4480 -0.80\\ 4486 -0.60\\ 4501 1.30\\ 4503 0.75\\ 4529 0.40\\
4544 0.10\\ 4606 -1.20\\ 4615 -1.10\\ 4621 -0.25\\ 4624 1.45\\ 4627 1.35\\ 4629 0.70\\ 4630 -1.45\\ 4637 0.20\\ 4647 -0.10\\
4648 1.40\\ 4654 -1.30\\ 4655 0.60\\ 4668 -0.80\\ 4672 -0.55\\ 4678 1.35\\ 4683 -0.25\\ 4684 0.25\\ 4690 1.40\\ 4693 -0.55\\
4703 1.15\\ 4705 -1.05\\ 4711 0.60\\ 4717 -0.30\\ 4734 0.80\\ 4744 -1.00\\ 4755 1.15\\ 4759 0.45\\ 4770 -1.35\\ 4786 0.55\\
4801 0.35\\ 4818 0.90\\ 4832 0.15\\ 4846 0.85\\ 4848 -1.15\\ 4850 -0.95\\ 4853 -1.45\\ 4855 0.60\\ 4857 -0.05\\ 4929 -0.55\\
4930 -0.95\\ 4960 -0.75\\ 4961 -1.00\\ 4984 1.05\\ 4986 0.15\\ 5006 1.10\\ 5008 1.05\\ 5027 -1.05\\ 5028 -0.55\\ 5035 -0.15\\
5117 -0.90\\ 5118 -0.15\\
}\resblueB

\def\bandsA{3700/3905, 4125/4130, 4142/4147, 4189/4194, 4276/4305, 4382/4388, 4521/4550, 4582/4588, 4594/4601, 4625/4630, 4637/4642, 4780/4784, 4791/4796, 4832/4866, 4894/4898, 4905/4909, 4915/4920, 4966/4970, 4973/4977, 5033/5036, 5039/5042, 5162/5167, 5207/5400}
\def\bandsB{3700/3905, 3904/3908, 3909/3912, 3913/3917, 3929/3933, 3952/3956, 3965/3969, 3971/3975, 3980/3984, 3990/3994, 4001/4005, 4014/4018, 4019/4023, 4029/4033, 4034/4038, 4041/4045, 4055/4059, 4062/4066, 4067/4071, 4070/4074, 4080/4084, 4088/4092, 4091/4095, 4103/4107, 4106/4110, 4109/4113, 4112/4116, 4132/4142, 4152/4156, 4178/4182, 4181/4185, 4186/4190, 4190/4194, 4193/4197, 4204/4208, 4226/4230, 4252/4256, 4286/4290, 4298/4302, 4313/4324, 4358/4362, 4361/4365, 4367/4371, 4376/4380, 4382/4386, 4388/4392, 4399/4403, 4414/4418, 4454/4458, 4475/4479, 4478/4482, 4484/4488, 4499/4503, 4512/4516, 4527/4531, 4542/4546, 4604/4608, 4613/4617, 4619/4623, 4622/4626, 4627/4631, 4635/4639, 4645/4649, 4652/4656, 4666/4670, 4670/4674, 4676/4680, 4681/4685, 4688/4692, 4691/4695, 4701/4705, 4703/4707, 4709/4713, 4715/4719, 4732/4736, 4742/4746, 4753/4757, 4757/4761, 4768/4772, 4784/4788, 4799/4803, 4816/4820, 4830/4834, 4845/4857, 4928/4932, 4958/4962, 4982/4986, 5004/5008, 5025/5029, 5033/5037, 5115/5119, 5207/5400}
\def\linelist{3934,3969,4227,4304,4384,4455,4531,4668,5015,5175,5270,5335,5398}

\tikzset{lbl/.style={rotate=90, anchor=west, red, font=\fontsize{6.3}{7}\selectfont, inner sep=1.5pt}}

\pgfplotsset{
 base/.style={scale only axis, width=552pt, xmin=3700, xmax=5400, anchor=south west,
   tick align=inside, xtick={3800,4000,...,5400}, minor x tick num=3,
   axis line style={line width=1.1pt},
   major tick length=5.5pt, minor tick length=3pt,
   every tick/.append style={black, line width=0.8pt},
   tick label style={font=\fontsize{14}{16}\selectfont},
   label style={font=\fontsize{15}{18}\selectfont},
   /pgf/number format/assume math mode=true,
   /pgf/number format/1000 sep={},
   axis on top, clip mode=individual},
 spec/.style={base, height=242pt, ymin=-0.5, ymax=6.5, ytick={0,...,6}, minor y tick num=3, xticklabels={},
   ylabel={Normalized Flux}, ylabel style={at={(axis description cs:-0.064,0.5)}, anchor=center}},
 res/.style={base, height=82pt, ymin=-1.5, ymax=1.5, ytick={-1,0,1}, minor y tick num=2, yticklabels={−1,0,1},
   ylabel={Residuals}, ylabel style={at={(axis description cs:-0.064,0.5)}, anchor=center},
   xlabel={Restframe Wavelength (\textit{Å})}},
}

\newcommand\speclabels{%
 \node[lbl] at (axis cs:3934,6.5) {K};
 \node[lbl] at (axis cs:3969,6.5) {H};
 \node[lbl] at (axis cs:4227,6.5) {CaII};
 \node[lbl] at (axis cs:4304,6.5) {g-band};
 \node[lbl] at (axis cs:4384,6.5) {FeII};
 \node[lbl] at (axis cs:4455,6.5) {CaII};
 \node[lbl] at (axis cs:4531,6.5) {FeII};
 \node[lbl] at (axis cs:4668,6.5) {FeII};
 \node[lbl] at (axis cs:5015,6.5) {FeII};
 \node[lbl] at (axis cs:5175,6.5) {Mgb};
 \node[lbl] at (axis cs:5270,6.5) {FeII};
 \node[lbl] at (axis cs:5335,6.5) {FeII};
 \node[lbl] at (axis cs:5398,6.5) {FeII};
}

\begin{document}
\begin{tikzpicture}
% ---------- top spectrum ----------
\begin{axis}[spec, at={(52.5pt,533pt)}]
\foreach \a/\b in \bandsA {\addplot[fill=band, draw=none, forget plot] coordinates {(\a,-0.5) (\a,6.5) (\b,6.5) (\b,-0.5)};}
\foreach \x in \linelist {\addplot[red!85, dashed, line width=0.6pt, forget plot] coordinates {(\x,-0.5) (\x,6.5)};}
\addplot[black, line width=1.3pt, line join=round] table[x=x,y=y] {\specA};
\addplot[mblue, line width=1.3pt, line join=round, unbounded coords=jump] table[x=x,y=y] {\blueA};
\addplot[red, line width=2.3pt, line join=round] table[x=x,y=y] {\modelA};
\speclabels
\end{axis}
% ---------- top residuals ----------
\begin{axis}[res, at={(52.5pt,447pt)}, xlabel style={at={(axis description cs:0.5,-0.34)}, anchor=center}]
\foreach \a/\b in \bandsA {\addplot[fill=band, draw=none, forget plot] coordinates {(\a,-1.5) (\a,1.5) (\b,1.5) (\b,-1.5)};}
\addplot[only marks, mark=*, mark size=1.5pt, color=gray, mark options={draw=none, fill=gray}] table[x=x,y=y] {\resA};
\addplot[black, line width=1.1pt, dash pattern=on 6pt off 2.5pt on 1.5pt off 2.5pt] coordinates {(3700,0) (5400,0)};
\addplot[only marks, mark=*, mark size=1.6pt, color=mblue, mark options={draw=none, fill=mblue}] table[x=x,y=y] {\resblueA};
\end{axis}
% ---------- bottom spectrum ----------
\begin{axis}[spec, at={(52.5pt,123pt)}]
\foreach \a/\b in \bandsB {\addplot[fill=band, draw=none, forget plot] coordinates {(\a,-0.5) (\a,6.5) (\b,6.5) (\b,-0.5)};}
\foreach \x in \linelist {\addplot[red!85, dashed, line width=0.6pt, forget plot] coordinates {(\x,-0.5) (\x,6.5)};}
\addplot[black, line width=1.3pt, line join=round] table[x=x,y=y] {\specB};
\addplot[mblue, line width=1.3pt, line join=round, unbounded coords=jump] table[x=x,y=y] {\blueB};
\addplot[red, line width=2.3pt, line join=round] table[x=x,y=y] {\modelB};
\speclabels
\end{axis}
% ---------- bottom residuals ----------
\begin{axis}[res, at={(52.5pt,37pt)}, xlabel style={at={(axis description cs:0.5,-0.33)}, anchor=center}]
\foreach \a/\b in \bandsB {\addplot[fill=band, draw=none, forget plot] coordinates {(\a,-1.5) (\a,1.5) (\b,1.5) (\b,-1.5)};}
\addplot[only marks, mark=*, mark size=1.5pt, color=gray, mark options={draw=none, fill=gray}] table[x=x,y=y] {\resB};
\addplot[black, line width=1.1pt, dash pattern=on 6pt off 2.5pt on 1.5pt off 2.5pt] coordinates {(3700,0) (5400,0)};
\addplot[only marks, mark=*, mark size=1.6pt, color=mblue, mark options={draw=none, fill=mblue}] table[x=x,y=y] {\resblueB};
\end{axis}
\pgfresetboundingbox
\path (0,0) rectangle (621pt,799pt);
\end{tikzpicture}
\end{document}
